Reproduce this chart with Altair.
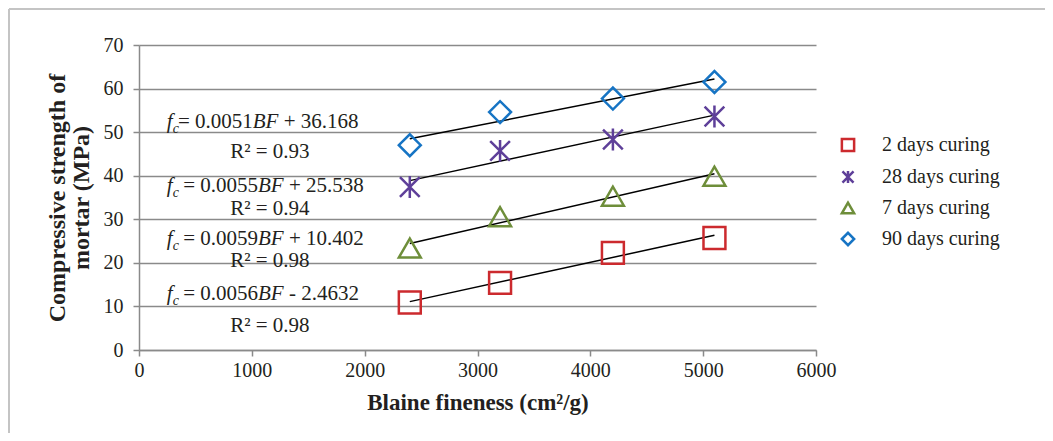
import altair as alt
import pandas as pd

# ---------------- data ----------------
blaine = [2400, 3200, 4200, 5100]
series_names = ["2 days curing", "28 days curing", "7 days curing", "90 days curing"]
strength_2d = [10.9, 15.4, 22.3, 25.7]
strength_28d = [37.4, 45.7, 48.3, 53.6]
strength_7d = [23.4, 30.6, 35.3, 39.9]
strength_90d = [47.0, 54.6, 57.7, 61.5]

series_colors = ["#CC2A2E", "#5E3F99", "#6E8E3A", "#1674C4"]

x_ticks = [0, 1000, 2000, 3000, 4000, 5000, 6000]
y_ticks = [0, 10, 20, 30, 40, 50, 60, 70]

# equation annotations (text as printed in the reference)
eq_sep = ["= ", " = ", " = ", " = "]
eq_slope = ["0.0051", "0.0055", "0.0059", "0.0056"]
eq_intercept = [" + 36.168", " + 25.538", " + 10.402", " - 2.4632"]
eq_r2 = ["R² = 0.93", "R² = 0.94", "R² = 0.98", "R² = 0.98"]
# anchor of each annotation in data units (Blaine fineness, MPa)
eq_anchor_x = 247
eq_anchor_y = [50.9, 36.3, 24.1, 11.5]
r2_anchor_x = 1160
r2_anchor_y = [44.0, 30.9, 19.1, 4.2]

# ---------------- layout ----------------
W, H = 677, 305
FONT = "Liberation Serif"
ANN_SIZE = 21
SUB_SIZE = 14
GRAY = "#8A8A8A"
TXT = "#231F20"

values = [strength_2d, strength_28d, strength_7d, strength_90d]
rows = []
for name, vals in zip(series_names, values):
    for b, v in zip(blaine, vals):
        rows.append({"bf": b, "val": v, "series": name})
df = pd.DataFrame(rows)

# Times metrics (em) to place the equation pieces one after another
METRIC = {".": 0.25, " ": 0.25, "=": 0.564, "+": 0.564, "-": 0.333,
          "B": 0.611, "F": 0.611, "f": 0.278, "c": 0.444}


def width(txt, size):
    return sum(METRIC.get(ch, 0.5) for ch in txt) * size


px_to_bf = 6000 / W
seg_rows = []
for i in range(4):
    cursor = 0.0
    pieces = [("f", "ital", ANN_SIZE),
              ("c", "sub", SUB_SIZE),
              (eq_sep[i] + eq_slope[i], "norm", ANN_SIZE),
              ("BF", "ital", ANN_SIZE),
              (eq_intercept[i], "norm", ANN_SIZE)]
    for txt, style, size in pieces:
        lead = len(txt) - len(txt.lstrip(" "))
        cursor += lead * METRIC[" "] * size
        core = txt.strip(" ")
        seg_rows.append({"x": eq_anchor_x + cursor * px_to_bf,
                         "y": eq_anchor_y[i], "t": core, "style": style})
        cursor += width(core, size)
        if style == "sub":
            cursor -= 1
seg = pd.DataFrame(seg_rows)
r2df = pd.DataFrame({"x": [r2_anchor_x] * 4, "y": r2_anchor_y, "t": eq_r2})

xs = alt.Scale(domain=[0, 6000], nice=False)
ys = alt.Scale(domain=[0, 70], nice=False)

base = alt.Chart(df)

STAR = "M-0.9,-0.9L0.9,0.9M-0.9,0.9L0.9,-0.9M0,-1L0,1"
leg = alt.Legend(title=None, orient="none", legendX=699, legendY=90)

points = base.mark_point(filled=False, size=480, strokeWidth=2.5, opacity=1).encode(
    x=alt.X("bf:Q", scale=xs,
            axis=alt.Axis(values=x_ticks, grid=False, title="Blaine fineness (cm²/g)",
                          format="d", labelFlush=False)),
    y=alt.Y("val:Q", scale=ys,
            axis=alt.Axis(values=y_ticks, grid=True,
                          title=["Compressive strength of", "mortar (MPa)"],
                          titleFontSize=24, titleLineHeight=24)),
    color=alt.Color("series:N",
                    scale=alt.Scale(domain=series_names, range=series_colors),
                    legend=leg),
    shape=alt.Shape("series:N",
                    scale=alt.Scale(domain=series_names,
                                    range=["square", STAR, "triangle-up", "diamond"]),
                    legend=leg),
)

trend = base.transform_regression("bf", "val", groupby=["series"]).mark_line(
    color="black", strokeWidth=1.5
).encode(x=alt.X("bf:Q", scale=xs), y=alt.Y("val:Q", scale=ys), detail="series:N")

ital = alt.Chart(seg).transform_filter(alt.datum.style == "ital").mark_text(
    align="left", baseline="alphabetic", font=FONT, fontSize=ANN_SIZE,
    fontStyle="italic", color=TXT
).encode(x=alt.X("x:Q", scale=xs), y=alt.Y("y:Q", scale=ys), text="t:N")

sub = alt.Chart(seg).transform_filter(alt.datum.style == "sub").mark_text(
    align="left", baseline="alphabetic", font=FONT, fontSize=SUB_SIZE,
    fontStyle="italic", color=TXT, dy=5
).encode(x=alt.X("x:Q", scale=xs), y=alt.Y("y:Q", scale=ys), text="t:N")

norm = alt.Chart(seg).transform_filter(alt.datum.style == "norm").mark_text(
    align="left", baseline="alphabetic", font=FONT, fontSize=ANN_SIZE, color=TXT
).encode(x=alt.X("x:Q", scale=xs), y=alt.Y("y:Q", scale=ys), text="t:N")

r2 = alt.Chart(r2df).mark_text(
    align="center", baseline="alphabetic", font=FONT, fontSize=ANN_SIZE, color=TXT
).encode(x=alt.X("x:Q", scale=xs), y=alt.Y("y:Q", scale=ys), text="t:N")

frame_df = pd.DataFrame({"k": [0]})
frame_left = alt.Chart(frame_df).mark_rule(color="#C4C4C4", strokeWidth=2).encode(
    x=alt.value(-130), y=alt.value(-36), y2=alt.value(420))
frame_top = alt.Chart(frame_df).mark_rule(color="#C4C4C4", strokeWidth=2).encode(
    x=alt.value(-130), x2=alt.value(920), y=alt.value(-36))

chart = alt.layer(frame_left, frame_top, trend, points, ital, sub, norm, r2).properties(
    width=W, height=H,
    autosize=alt.AutoSizeParams(type="none"),
    padding={"left": 131, "top": 37, "right": 229, "bottom": 83},
).configure_view(strokeWidth=0).configure_axis(
    domainColor=GRAY, domainWidth=1.5, tickColor=GRAY, tickWidth=1.5, tickSize=6,
    gridColor=GRAY, gridWidth=1.5,
    labelFont=FONT, labelFontSize=20, labelColor=TXT,
    titleFont=FONT, titleFontSize=23, titleFontWeight="bold", titleColor=TXT,
).configure_axisX(labelPadding=4, titlePadding=11).configure_axisY(
    labelPadding=10, titlePadding=10
).configure_legend(
    labelFont=FONT, labelFontSize=20, labelColor=TXT, symbolSize=150,
    symbolStrokeWidth=2.5, labelOffset=24, rowPadding=8
)

chart.save("out.html", embed_options={"renderer": "svg", "actions": False})
